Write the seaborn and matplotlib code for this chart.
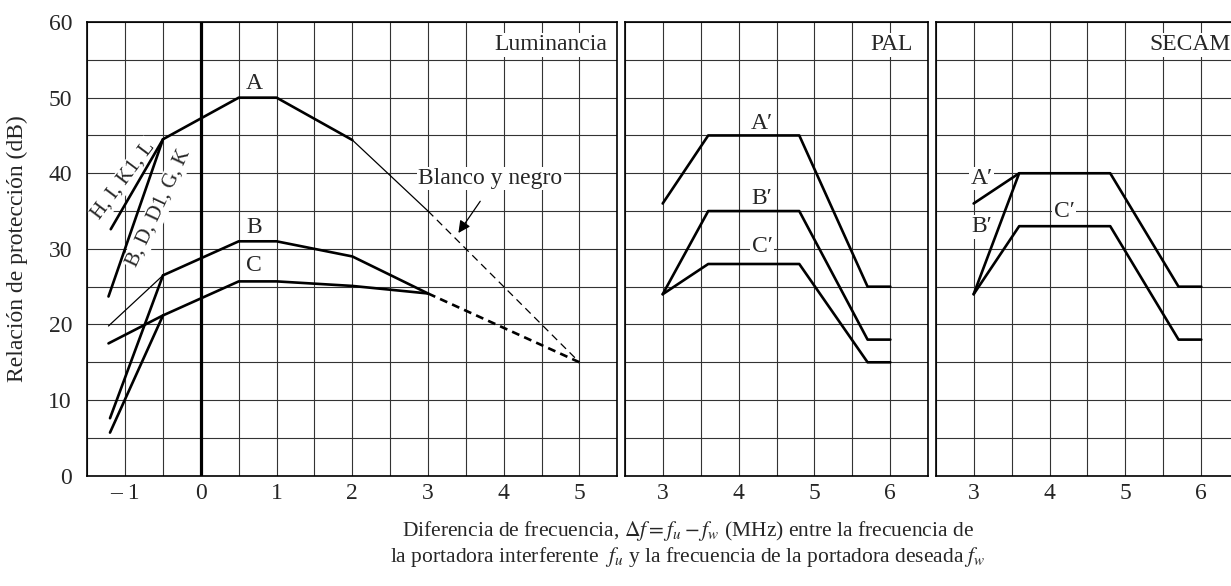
import matplotlib.pyplot as plt
import seaborn as sns
from matplotlib.ticker import MultipleLocator

sns.set_theme(style="white")
plt.rcParams['font.family'] = ['Liberation Serif', 'DejaVu Serif']
plt.rcParams['mathtext.fontset'] = 'stix'

# Luminancia panel (MHz, dB)
a_x = [-0.5, 0.5, 1.0, 2.0]
a_y = [44.5, 50.0, 50.0, 44.4]
a_thin_x = [2.0, 3.0]
a_thin_y = [44.4, 35.0]
bw_x = [3.0, 5.0]            # blanco y negro, dashed
bw_y = [35.0, 15.0]
hikl_x = [-1.19, -0.5]
hikl_y = [32.6, 44.5]
bdg_x = [-1.22, -0.5]
bdg_y = [23.7, 44.5]
b_x = [-0.5, 0.5, 1.0, 2.0, 3.0]
b_y = [26.5, 31.0, 31.0, 29.0, 24.1]
b_thin_x = [-1.22, -0.5]
b_thin_y = [19.8, 26.5]
b_low_x = [-1.2, -0.5]
b_low_y = [7.6, 26.5]
c_x = [-1.22, -0.5, 0.5, 1.0, 2.0, 3.0]
c_y = [17.5, 21.2, 25.7, 25.7, 25.1, 24.1]
c_low_x = [-1.2, -0.5]
c_low_y = [5.7, 21.2]
bc_dash_x = [3.0, 5.0]
bc_dash_y = [24.1, 15.0]

# PAL panel
pal_x = [3.0, 3.6, 4.8, 5.7, 6.0]
pal_a = [36.0, 45.0, 45.0, 25.0, 25.0]
pal_b = [24.0, 35.0, 35.0, 18.0, 18.0]
pal_c = [24.0, 28.0, 28.0, 15.0, 15.0]

# SECAM panel
sec_a_x = [3.0, 3.6]
sec_a_y = [36.0, 40.0]
sec_x = [3.0, 3.6, 4.8, 5.7, 6.0]
sec_b = [24.0, 40.0, 40.0, 25.0, 25.0]
sec_c = [24.0, 33.0, 33.0, 18.0, 18.0]

lum_ticks = [-1, 0, 1, 2, 3, 4, 5]
lum_labels = ['\u2013 1', '0', '1', '2', '3', '4', '5']
chroma_ticks = [3, 4, 5, 6]
y_ticks = [0, 10, 20, 30, 40, 50, 60]

FS = 17
THICK = 1.9
THIN = 0.9

fig = plt.figure(figsize=(12.31, 5.86), dpi=100)
ax_l = fig.add_axes([0.0709, 0.1882, 0.4306, 0.7742])
ax_p = fig.add_axes([0.5075, 0.1882, 0.2466, 0.7742])
ax_s = fig.add_axes([0.7601, 0.1882, 0.2466, 0.7742])


def style_axes(ax, xlim, xticks, xlabels):
    ax.set_xlim(*xlim)
    ax.set_ylim(0, 60)
    ax.set_xticks(xticks)
    ax.set_xticklabels(xlabels, fontsize=FS)
    ax.xaxis.set_minor_locator(MultipleLocator(0.5))
    ax.set_yticks(y_ticks)
    ax.yaxis.set_minor_locator(MultipleLocator(5))
    ax.grid(True, which='both', color='0.2', linewidth=0.8, zorder=0)
    ax.set_axisbelow(True)
    ax.tick_params(which='both', length=0)
    ax.tick_params(axis='x', pad=5)
    for sp in ax.spines.values():
        sp.set_color('black')
        sp.set_linewidth(1.2)
    ax.set_xlabel('')
    ax.set_ylabel('')


def line(ax, x, y, lw=THICK, ls='-'):
    sns.lineplot(x=x, y=y, ax=ax, color='black', linewidth=lw, linestyle=ls,
                 sort=False, estimator=None, zorder=3)


box = dict(facecolor='white', edgecolor='none', pad=1)

# --- Luminancia ---
style_axes(ax_l, (-1.5, 5.5), lum_ticks, lum_labels)
ax_l.set_yticklabels([str(v) for v in y_ticks], fontsize=FS)
ax_l.tick_params(axis='y', pad=11)
ax_l.axvline(0, color='black', linewidth=2.3, zorder=2)

line(ax_l, a_x, a_y)
line(ax_l, a_thin_x, a_thin_y, lw=THIN)
line(ax_l, bw_x, bw_y, lw=THIN, ls=(0, (6, 4)))
line(ax_l, hikl_x, hikl_y)
line(ax_l, bdg_x, bdg_y)
line(ax_l, b_x, b_y)
line(ax_l, b_thin_x, b_thin_y, lw=THIN)
line(ax_l, b_low_x, b_low_y)
line(ax_l, c_x, c_y)
line(ax_l, c_low_x, c_low_y)
line(ax_l, bc_dash_x, bc_dash_y, ls=(0, (3, 2)))

ax_l.text(5.37, 57.0, 'Luminancia', ha='right', va='center', fontsize=FS, bbox=box, zorder=2)
ax_l.text(0.7, 51.9, 'A', ha='center', va='center', fontsize=FS)
ax_l.text(0.7, 32.8, 'B', ha='center', va='center', fontsize=FS)
ax_l.text(0.7, 27.8, 'C', ha='center', va='center', fontsize=FS, bbox=box, zorder=2)
ax_l.text(-1.02, 39.1, 'H, I, K1, L', ha='center', va='center', fontsize=15,
          rotation=53, bbox=box, zorder=2)
ax_l.text(-0.56, 35.4, 'B, D, D1, G, K', ha='center', va='center', fontsize=15,
          rotation=65, bbox=box, zorder=2)
ax_l.text(3.82, 39.3, 'Blanco y negro', ha='center', va='center', fontsize=FS, bbox=box, zorder=2)
ax_l.annotate('', xy=(3.38, 31.8), xytext=(3.71, 36.6),
              arrowprops=dict(arrowstyle='-|>', color='black', lw=0.9, mutation_scale=18))

# --- PAL ---
style_axes(ax_p, (2.5, 6.5), chroma_ticks, [str(v) for v in chroma_ticks])
ax_p.set_yticklabels([])
line(ax_p, pal_x, pal_a)
line(ax_p, pal_x, pal_b)
line(ax_p, pal_x, pal_c)
ax_p.text(6.30, 57.0, 'PAL', ha='right', va='center', fontsize=FS, bbox=box, zorder=2)
ax_p.text(4.31, 46.6, 'A\u2032', ha='center', va='center', fontsize=FS)
ax_p.text(4.31, 36.7, 'B\u2032', ha='center', va='center', fontsize=FS)
ax_p.text(4.31, 30.3, 'C\u2032', ha='center', va='center', fontsize=FS, bbox=box, zorder=2)

# --- SECAM ---
style_axes(ax_s, (2.5, 6.5), chroma_ticks, [str(v) for v in chroma_ticks])
ax_s.set_yticklabels([])
line(ax_s, sec_a_x, sec_a_y)
line(ax_s, sec_x, sec_b)
line(ax_s, sec_x, sec_c)
ax_s.text(5.31, 57.0, 'SECAM', ha='left', va='center', fontsize=FS, bbox=box, zorder=2)
ax_s.text(3.11, 39.3, 'A\u2032', ha='center', va='center', fontsize=FS, bbox=box, zorder=2)
ax_s.text(3.11, 32.9, 'B\u2032', ha='center', va='center', fontsize=FS, bbox=box, zorder=2)
ax_s.text(4.19, 35.0, 'C\u2032', ha='center', va='center', fontsize=FS, bbox=box, zorder=2)

fig.text(0.0138, 0.575, 'Relación de protección (dB)', rotation=90,
         ha='center', va='center', fontsize=FS)
fig.text(0.559, 0.094,
         r'Diferencia de frecuencia, $\Delta f = f_u - f_w$ (MHz) entre la frecuencia de',
         ha='center', va='center', fontsize=15.5)
fig.text(0.559, 0.049,
         r'la portadora interferente  $f_u$ y la frecuencia de la portadora deseada $f_w$',
         ha='center', va='center', fontsize=15.5)

fig.savefig('out.png', dpi=100)
